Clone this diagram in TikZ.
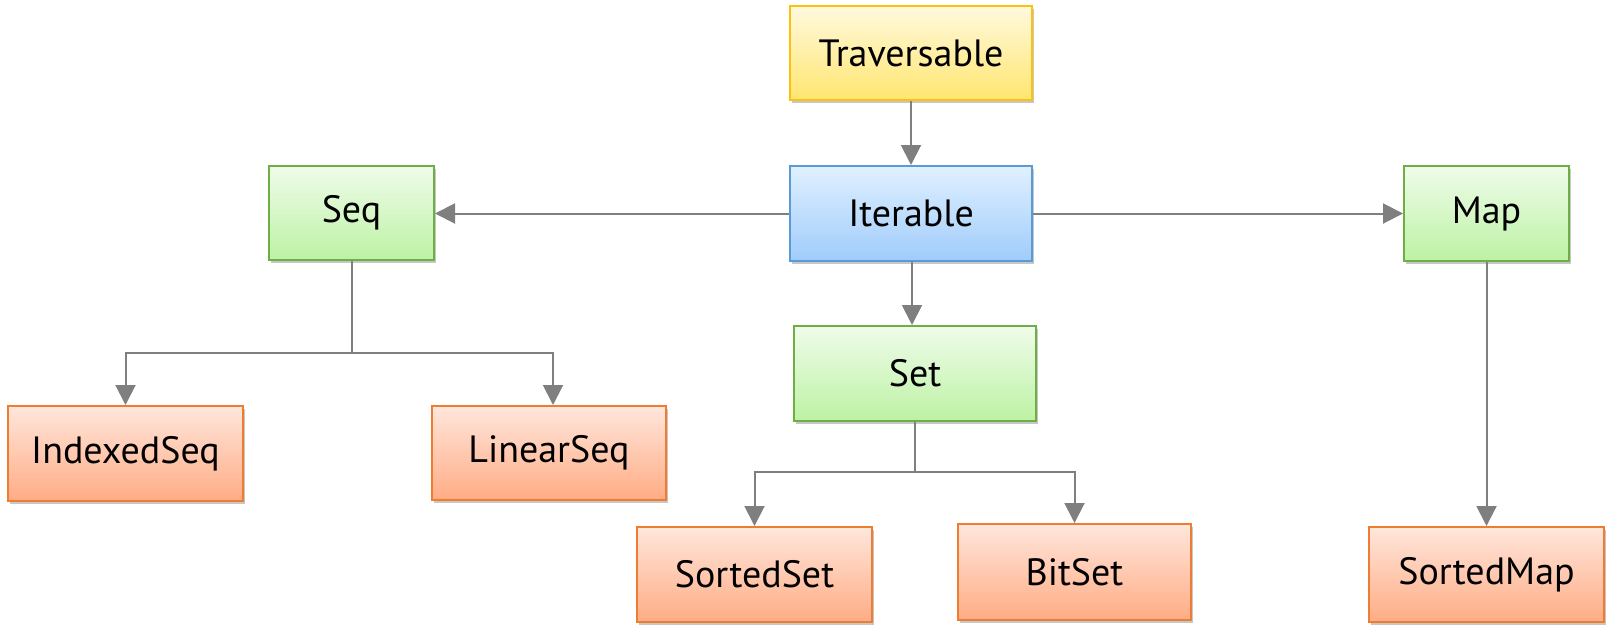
\documentclass[tikz,border=0pt]{standalone}
\usepackage{fontspec}
\setmainfont{PT Sans}
\usetikzlibrary{arrows.meta,shadows,calc}
\definecolor{linegray}{HTML}{7F7F7F}
\definecolor{travtop}{HTML}{FFF9DE}
\definecolor{travbot}{HTML}{FFE670}
\definecolor{travbd}{HTML}{FBC10E}
\definecolor{itertop}{HTML}{E0F0FF}
\definecolor{iterbot}{HTML}{A0CCFB}
\definecolor{iterbd}{HTML}{5B9BD5}
\definecolor{grntop}{HTML}{EFFCEA}
\definecolor{grnbot}{HTML}{BDF2A4}
\definecolor{grnbd}{HTML}{6FAD45}
\definecolor{orgtop}{HTML}{FFE6DC}
\definecolor{orgbot}{HTML}{FFAC84}
\definecolor{orgbd}{HTML}{EE7D31}
\tikzset{
  box/.style={draw, line width=2pt, inner sep=0pt, font=\fontsize{38}{42}\selectfont,
    drop shadow={shadow xshift=2pt, shadow yshift=-3pt, opacity=0.22, fill=black}},
  travbox/.style={box, draw=travbd, top color=travtop, bottom color=travbot},
  iterbox/.style={box, draw=iterbd, top color=itertop, bottom color=iterbot},
  grnbox/.style={box, draw=grnbd, top color=grntop, bottom color=grnbot},
  orgbox/.style={box, draw=orgbd, top color=orgtop, bottom color=orgbot},
  conn/.style={draw=linegray, line width=2pt},
  arr/.style={conn, -{Triangle[width=20pt,length=20pt]}},
}
\begin{document}
\begin{tikzpicture}[x=1pt,y=-1pt]
\useasboundingbox (0,0) rectangle (1613,634);
\node[travbox, minimum width=242pt, minimum height=94pt] (trav) at (911,53) {Traversable};
\node[iterbox, minimum width=242pt, minimum height=95pt] (iter) at (911,213.5) {Iterable};
\node[grnbox, minimum width=165pt, minimum height=94pt] (seq) at (351.5,213) {Seq};
\node[grnbox, minimum width=165pt, minimum height=95pt] (map) at (1486.5,213.5) {Map};
\node[grnbox, minimum width=242pt, minimum height=95pt] (set) at (915,373.5) {Set};
\node[orgbox, minimum width=235pt, minimum height=95pt] (iseq) at (125.5,453.5) {IndexedSeq};
\node[orgbox, minimum width=234pt, minimum height=94pt] (lseq) at (549,453) {LinearSeq};
\node[orgbox, minimum width=235pt, minimum height=95pt] (sset) at (754.5,574.5) {SortedSet};
\node[orgbox, minimum width=233pt, minimum height=96pt] (bset) at (1074.5,572) {BitSet};
\node[orgbox, minimum width=235pt, minimum height=95pt] (smap) at (1486.5,574.5) {SortedMap};
\coordinate (sj) at (352,353);
\coordinate (tj) at (915,472);
\draw[arr] (trav) -- (iter);
\draw[arr] (iter.west) -- (iter.west -| seq.east);
\draw[arr] (iter.east) -- (iter.east -| map.west);
\draw[arr] ([xshift=1pt]iter.south) -- ([xshift=1pt]iter.south |- set.north);
\draw[conn] (seq.south -| sj) -- (sj);
\draw[arr] (sj) -| (iseq.north);
\draw[arr] (sj) -| ([xshift=4pt]lseq.north);
\draw[conn] (set.south -| tj) -- (tj);
\draw[arr] (tj) -| (sset.north);
\draw[arr] (tj) -| (bset.north);
\draw[arr] (map) -- (smap);
\end{tikzpicture}
\end{document}
